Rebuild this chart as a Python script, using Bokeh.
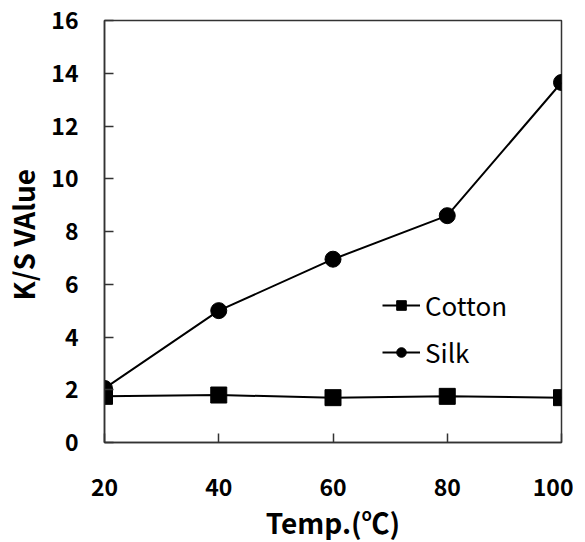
from bokeh.plotting import figure
from bokeh.models import Range1d, FixedTicker, Legend, LegendItem
from bokeh.embed import file_html
from bokeh.resources import INLINE

temps = [20, 40, 60, 80, 100]
cotton = [1.75, 1.8, 1.7, 1.75, 1.7]
silk = [2.05, 5.0, 6.95, 8.6, 13.65]
x_ticks = [20, 40, 60, 80, 100]
y_ticks = [0, 2, 4, 6, 8, 10, 12, 14, 16]

FONT = "Noto Sans CJK KR"

p = figure(frame_width=457, frame_height=422, output_backend="svg", toolbar_location=None,
           x_range=Range1d(20, 100), y_range=Range1d(0, 16),
           min_border_left=96, min_border_right=12, min_border_top=20, min_border_bottom=84)
p.grid.visible = False
p.outline_line_color = "#333333"
p.outline_line_width = 1.5
p.background_fill_color = "white"
p.border_fill_color = "white"

for ax in (p.xaxis[0], p.yaxis[0]):
    ax.axis_line_color = "#333333"
    ax.axis_line_width = 1.5
    ax.major_tick_in = 9
    ax.major_tick_out = 0
    ax.major_tick_line_color = "#333333"
    ax.major_tick_line_width = 1.5
    ax.minor_tick_line_color = None
    ax.major_label_text_font = FONT
    ax.major_label_text_font_style = "bold"
    ax.major_label_text_font_size = "23px"
    ax.major_label_text_color = "black"
    ax.axis_label_text_font = FONT
    ax.axis_label_text_font_style = "bold"
    ax.axis_label_text_font_size = "28px"
    ax.axis_label_text_color = "black"

p.xaxis.ticker = FixedTicker(ticks=x_ticks)
p.yaxis.ticker = FixedTicker(ticks=y_ticks)
p.xaxis.major_label_standoff = 36
p.yaxis.major_label_standoff = 26
p.xaxis.axis_label = "Temp.(℃)"
p.yaxis.axis_label = "K/S  VAlue"
p.xaxis.axis_label_standoff = 3
p.yaxis.axis_label_standoff = 5

c_line = p.line(temps, cotton, line_color="black", line_width=2)
c_mark = p.scatter(temps, cotton, marker="square", size=16, fill_color="black", line_color="black")
s_line = p.line(temps, silk, line_color="black", line_width=2)
s_mark = p.scatter(temps, silk, marker="circle", size=16, fill_color="black", line_color="black")

legend = Legend(items=[LegendItem(label="Cotton", renderers=[c_line, c_mark]),
                       LegendItem(label="Silk", renderers=[s_line, s_mark])],
                location=(278, 72), padding=0, margin=0, border_line_color=None,
                background_fill_alpha=0, glyph_width=38, glyph_height=24, label_height=24,
                spacing=10, label_standoff=5, label_text_font=FONT, label_text_font_size="26px",
                label_text_color="black")
p.add_layout(legend)

open("out.html", "w").write(file_html(p, INLINE))
